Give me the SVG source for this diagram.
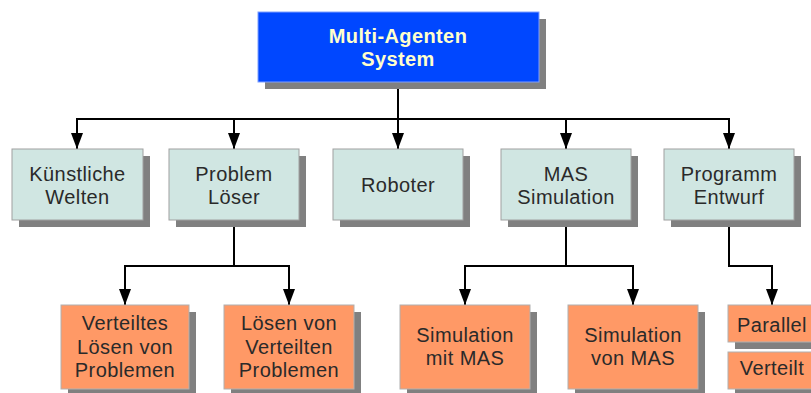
<svg xmlns="http://www.w3.org/2000/svg" width="811" height="393" viewBox="0 0 811 393">
<defs>
<marker id="arr" viewBox="0 0 16 12" refX="16" refY="6" markerWidth="16" markerHeight="12" orient="auto" markerUnits="userSpaceOnUse"><path d="M0,0 L16,6 L0,12 z" fill="#000"/></marker>
</defs>
<style>
.sh{fill:#808080}
.top{fill:#0047ff;stroke:#7f9fff;stroke-width:1}
.mid{fill:#d0e6e2;stroke:#a0a0a0;stroke-width:1}
.bot{fill:#ff9966;stroke:#b0b0b0;stroke-width:1}
text{font-family:"Liberation Sans",Arial,sans-serif;font-size:20px;fill:#2a2a2a;text-anchor:middle;letter-spacing:0.4px}
.tt{font-weight:bold;fill:#ffffcc}
.c{fill:none;stroke:#000;stroke-width:2;marker-end:url(#arr)}
</style>
<rect width="811" height="393" fill="#fff"/>
<g id="connectors">
<path class="c" d="M398,82 V119 H77 V149"/>
<path class="c" d="M398,82 V119 H234 V149"/>
<path class="c" d="M398,82 V149"/>
<path class="c" d="M398,82 V119 H566 V149"/>
<path class="c" d="M398,82 V119 H729 V149"/>
<path class="c" d="M234,220 V266 H125 V305"/>
<path class="c" d="M234,220 V266 H289 V305"/>
<path class="c" d="M566,220 V266 H465 V305"/>
<path class="c" d="M566,220 V266 H633 V305"/>
<path class="c" d="M729,220 V266 H772 V305"/>
</g>
<g id="n-mas">
<rect class="sh" x="265" y="19" width="281" height="70"/>
<rect class="top" x="258" y="12" width="281" height="70"/>
<text class="tt" x="398" y="43">Multi-Agenten</text>
<text class="tt" x="398" y="66">System</text>
</g>
<g id="n-kw">
<rect class="sh" x="19" y="156" width="131" height="71"/>
<rect class="mid" x="12" y="149" width="131" height="71"/>
<text x="77.5" y="181">Künstliche</text>
<text x="77.5" y="204">Welten</text>
</g>
<g id="n-pl">
<rect class="sh" x="176" y="156" width="130" height="71"/>
<rect class="mid" x="169" y="149" width="130" height="71"/>
<text x="234" y="181">Problem</text>
<text x="234" y="204">Löser</text>
</g>
<g id="n-rob">
<rect class="sh" x="340" y="156" width="130" height="71"/>
<rect class="mid" x="333" y="149" width="130" height="71"/>
<text x="398" y="192">Roboter</text>
</g>
<g id="n-mss">
<rect class="sh" x="508" y="156" width="130" height="71"/>
<rect class="mid" x="501" y="149" width="130" height="71"/>
<text x="566" y="181">MAS</text>
<text x="566" y="204">Simulation</text>
</g>
<g id="n-pe">
<rect class="sh" x="671" y="156" width="130" height="71"/>
<rect class="mid" x="664" y="149" width="130" height="71"/>
<text x="729" y="181">Programm</text>
<text x="729" y="204">Entwurf</text>
</g>
<g id="n-vlp">
<rect class="sh" x="68" y="312" width="128" height="84"/>
<rect class="bot" x="61" y="305" width="128" height="84"/>
<text x="125" y="330">Verteiltes</text>
<text x="125" y="354">Lösen von</text>
<text x="125" y="377">Problemen</text>
</g>
<g id="n-lvp">
<rect class="sh" x="231" y="312" width="130" height="84"/>
<rect class="bot" x="224" y="305" width="130" height="84"/>
<text x="289" y="330">Lösen von</text>
<text x="289" y="354">Verteilten</text>
<text x="289" y="377">Problemen</text>
</g>
<g id="n-smm">
<rect class="sh" x="407" y="312" width="130" height="84"/>
<rect class="bot" x="400" y="305" width="130" height="84"/>
<text x="465" y="342">Simulation</text>
<text x="465" y="365">mit MAS</text>
</g>
<g id="n-svm">
<rect class="sh" x="575" y="312" width="130" height="84"/>
<rect class="bot" x="568" y="305" width="130" height="84"/>
<text x="633" y="342">Simulation</text>
<text x="633" y="365">von MAS</text>
</g>
<g id="n-par">
<rect class="sh" x="735" y="312" width="88" height="37"/>
<rect class="bot" x="728" y="305" width="88" height="37"/>
<text x="772" y="332">Parallel</text>
</g>
<g id="n-vt">
<rect class="sh" x="735" y="359" width="88" height="37"/>
<rect class="bot" x="728" y="352" width="88" height="37"/>
<text x="772" y="375">Verteilt</text>
</g>
</svg>
